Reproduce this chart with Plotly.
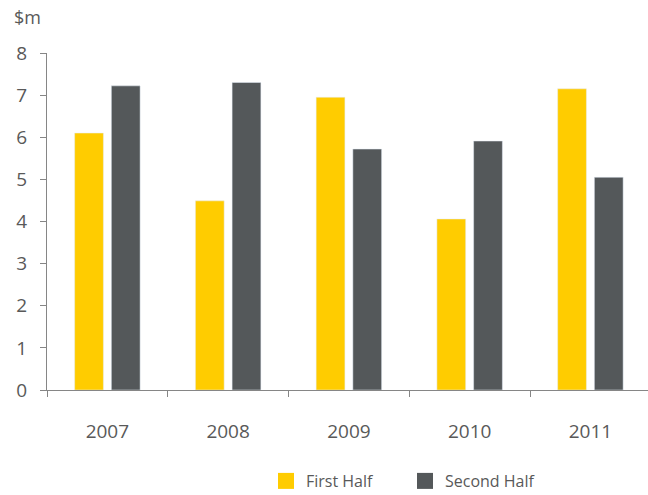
import plotly.graph_objects as go

years = ["2007", "2008", "2009", "2010", "2011"]
first_half = [6.10, 4.49, 6.95, 4.06, 7.15]
second_half = [7.22, 7.30, 5.72, 5.91, 5.05]
y_ticks = [0, 1, 2, 3, 4, 5, 6, 7, 8]

YELLOW = "#FFCC00"
GREY = "#54585A"
TXT = "#595959"
AX = "#868686"
FONT = "Open Sans"

fig = go.Figure()
fig.add_trace(go.Bar(x=years, y=first_half, name="First Half", marker_color=YELLOW,
                     showlegend=False))
fig.add_trace(go.Bar(x=years, y=second_half, name="Second Half", marker_color=GREY,
                     showlegend=False))
# legend entries
fig.add_trace(go.Scatter(x=[None], y=[None], mode="markers", name="First Half",
                         marker=dict(symbol="square", size=16, color=YELLOW)))
fig.add_trace(go.Scatter(x=[None], y=[None], mode="markers", name="Second Half",
                         marker=dict(symbol="square", size=16, color=GREY)))

fig.update_layout(
    width=648, height=495,
    margin=dict(l=47, r=0, t=53, b=105, autoexpand=False),
    paper_bgcolor="white", plot_bgcolor="white",
    barmode="group", bargap=0.392, bargroupgap=0.216,
    font=dict(family=FONT, color=TXT),
    legend=dict(orientation="h", x=(266 - 47) / 601, xanchor="left",
                y=-91 / 337, yanchor="middle", font=dict(size=16, color=TXT),
                itemwidth=30, tracegroupgap=0,
                entrywidth=94, entrywidthmode="pixels"),
    annotations=[dict(text="$m", xref="paper", yref="paper",
                      x=-35 / 601, y=1 + 36 / 337, xanchor="left", yanchor="middle",
                      showarrow=False, font=dict(size=18, color=TXT, family=FONT))],
)
fig.update_xaxes(
    type="category", range=[-0.5, 4.477],
    showline=True, linecolor=AX, linewidth=1,
    ticks="outside", tickson="boundaries", ticklen=6, tickcolor=AX,
    ticklabelstandoff=24,
    tickfont=dict(size=19, color=TXT, family=FONT),
    showgrid=False, zeroline=False,
)
fig.update_yaxes(
    range=[0, 8], tickvals=y_ticks,
    showline=True, linecolor=AX, linewidth=1,
    ticks="outside", ticklen=6, tickcolor=AX,
    ticklabelstandoff=9,
    tickfont=dict(size=19, color=TXT, family=FONT),
    showgrid=False, zeroline=False,
)
fig.write_html("out.html")
